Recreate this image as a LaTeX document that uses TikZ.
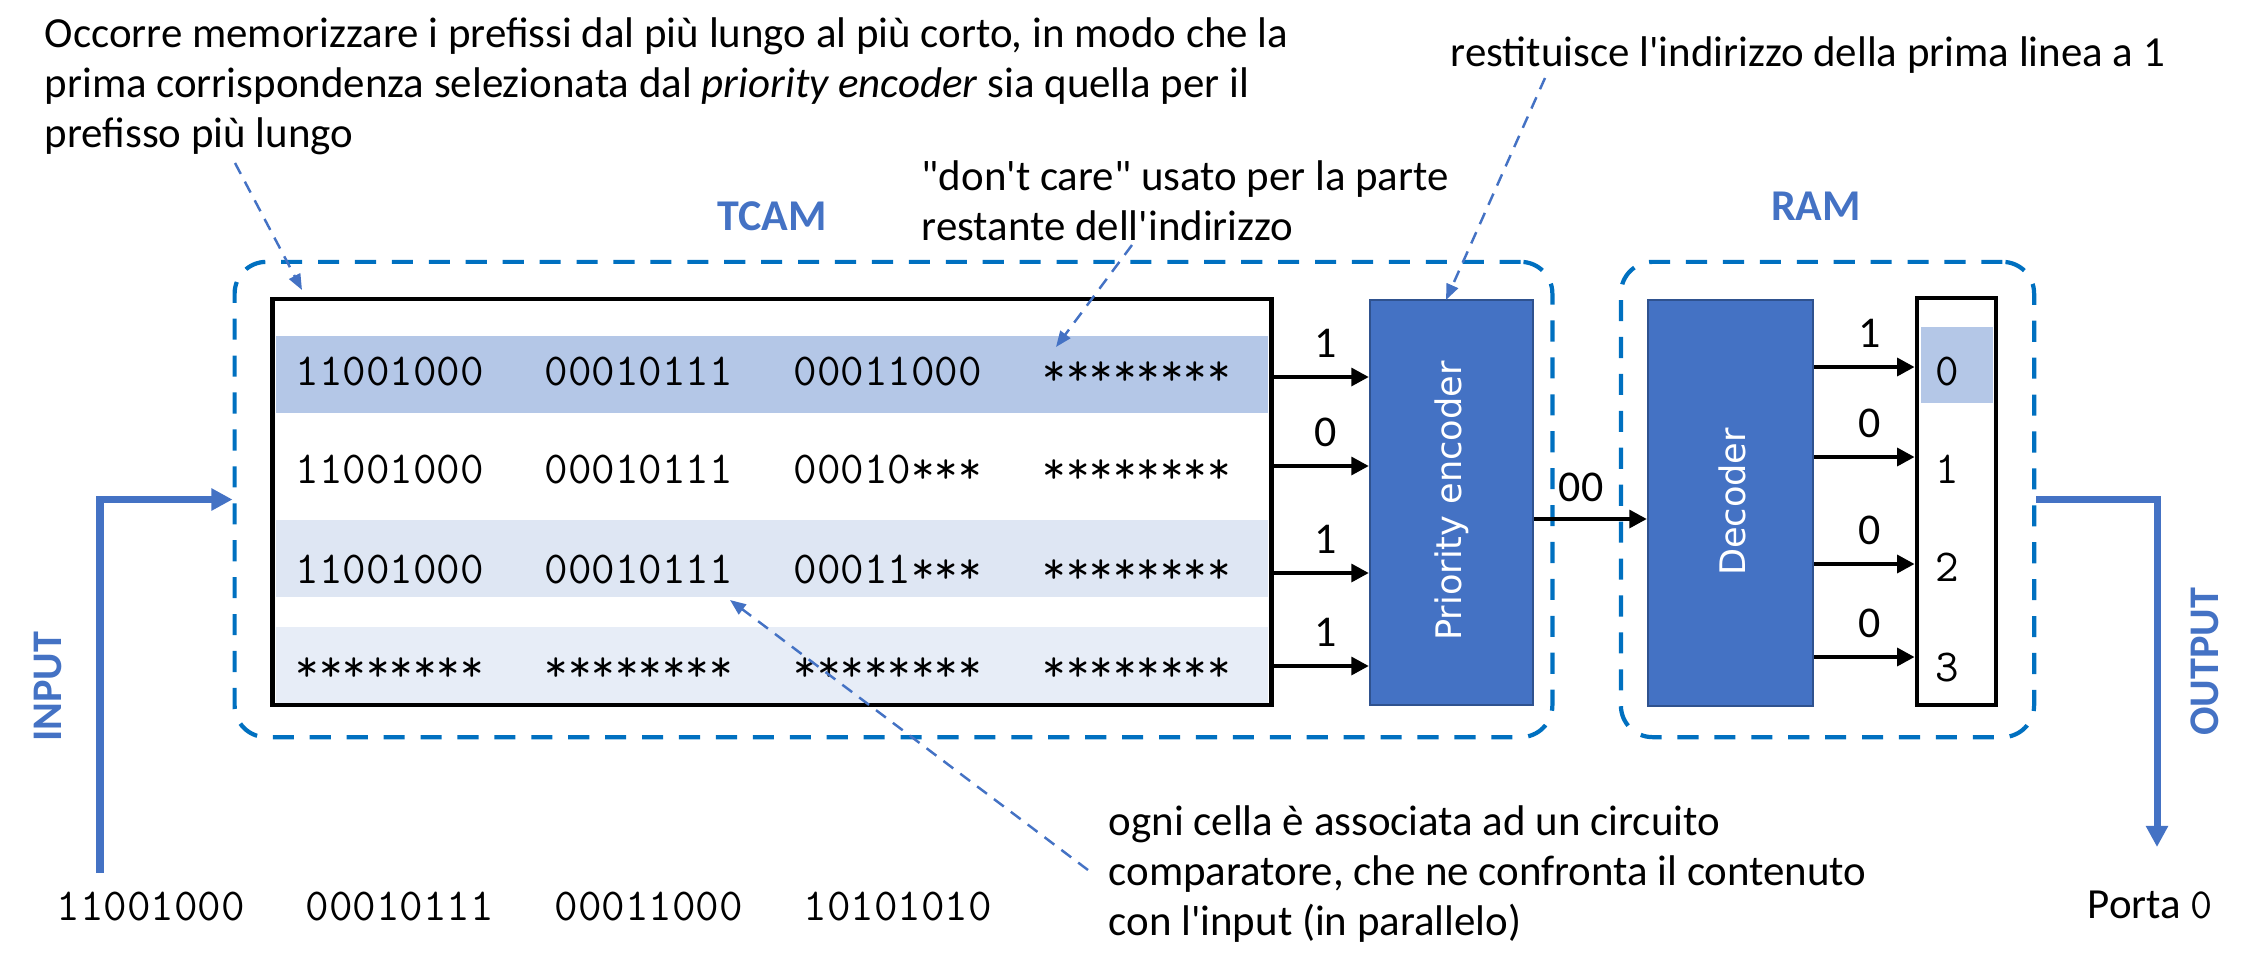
\documentclass[tikz,border=0pt]{standalone}
\usepackage{fontspec}
\setmainfont{Carlito}
\newfontfamily\encfont{DejaVu Sans}
\usetikzlibrary{arrows.meta}
\definecolor{tcamFrameBlue}{HTML}{0070C0}
\definecolor{tcamAccent}{HTML}{4472C4}
\definecolor{tcamAccentDark}{HTML}{2F528F}
\definecolor{tcamRowMatch}{HTML}{B4C7E7}
\definecolor{tcamRowLight}{HTML}{DEE6F3}
\definecolor{tcamRowPale}{HTML}{E7EDF7}

\begin{document}
\begin{tikzpicture}[x=0.01cm, y=-0.01cm,
    note/.style={font=\fontsize{12.2}{14.2}\selectfont, align=left, anchor=base west, inner sep=0pt},
    bits/.style={font=\fontsize{13}{15}\selectfont\ttfamily, anchor=base west, inner sep=0pt},
    bitlabel/.style={font=\fontsize{12.5}{14}\selectfont, inner sep=0pt},
    boxtitle/.style={font=\fontsize{12.5}{14}\selectfont\bfseries, text=tcamAccent, inner sep=0pt},
    dashframe/.style={draw=tcamFrameBlue, line width=1.2pt, dash pattern=on 6pt off 4.5pt, rounded corners=9pt, minimum height=4.75cm},
    block/.style={fill=tcamAccent, draw=tcamAccentDark, line width=0.6pt, minimum height=4.05cm},
    blocktext/.style={rotate=90, text=white, font=\encfont\fontsize{10}{12}\selectfont, inner sep=0pt},
    wire/.style={line width=1.4pt, -{Triangle[length=5pt, width=5pt]}},
    io/.style={draw=tcamAccent, line width=2pt, -{Triangle[length=6pt, width=6pt]}},
    hint/.style={draw=tcamAccent, line width=0.7pt, dash pattern=on 3.5pt off 2.5pt, -{Triangle[length=4.5pt, width=3.5pt]}}]
    \useasboundingbox (0,0) rectangle (2257,957);
    % dashed outlines
    \node[dashframe, minimum width=13.17cm] (tcamframe) at (893.5,499.5) {};
    \node[dashframe, minimum width=4.13cm] (ramframe) at (1827.5,499.5) {};
    \node[boxtitle] (tcamtitle) at (772,216) {TCAM};
    \node[boxtitle] (ramtitle) at (1816,206) {RAM};
    % TCAM rows
    \fill[tcamRowMatch] (276,336) rectangle (1268,413);
    \fill[tcamRowLight] (276,520) rectangle (1268,597);
    \fill[tcamRowPale] (276,627) rectangle (1268,703);
    \node[draw, line width=1.3pt, minimum width=9.98cm, minimum height=4.06cm] (tcam) at (772,502) {};
    \foreach \r/\base/\a/\b/\c/\d in {1/385/11001000/00010111/00011000/********,
        2/483/11001000/00010111/00010***/********,
        3/583/11001000/00010111/00011***/********,
        4/681/********/********/********/********} {
        \node[bits] (cell\r a) at (295,\base) {\a};
        \node[bits] (cell\r b) at (544,\base) {\b};
        \node[bits] (cell\r c) at (793,\base) {\c};
        \node[bits] (cell\r d) at (1042,\base) {\d};
    }
    % encoder, decoder, RAM
    \node[block, minimum width=1.63cm] (pe) at (1451.5,502.5) {};
    \node[blocktext] (pelabel) at (1452,501) {Priority encoder};
    \node[block, minimum width=1.65cm] (dec) at (1730.5,503) {};
    \node[blocktext] (declabel) at (1732,502) {Decoder};
    \fill[tcamRowMatch] (1921,327) rectangle (1993,403);
    \node[draw, line width=1.3pt, minimum width=0.79cm, minimum height=4.07cm] (ram) at (1956.5,501.5) {};
    \foreach \n/\base in {0/385, 1/483, 2/581, 3/681}
        \node[bits, anchor=base] (addr\n) at (1947,\base) {\n};
    \foreach \y/\bit [count=\i] in {377/1, 466/0, 573/1, 666/1} {
        \draw[wire] (tcam.east |- 0,\y) -- (pe.west |- 0,\y);
        \node[bitlabel] (match\i) at (1326,\y-34) {\bit};
    }
    \draw[wire] (pe.east |- 0,519) -- (dec.west |- 0,519);
    \node[bitlabel] (code) at (1581,487) {00};
    \foreach \y/\bit [count=\i] in {367/1, 457/0, 564/0, 657/0} {
        \draw[wire] (dec.east |- 0,\y) -- (ram.west |- 0,\y);
        \node[bitlabel] (line\i) at (1870,\y-34) {\bit};
    }
    % input and output
    \node[boxtitle, font=\fontsize{12}{14}\selectfont\bfseries, rotate=90] (inputlabel) at (48,687) {INPUT};
    \node[boxtitle, font=\fontsize{12}{14}\selectfont\bfseries, rotate=90] (outputlabel) at (2205,662) {OUTPUT};
    \coordinate (infeed) at (100,873);
    \coordinate (outfeed) at (2157,847);
    \draw[io] (infeed) |- (tcamframe.west);
    \draw[io] (ramframe.east) -| (outfeed);
    \node[bits] (in1) at (56,920) {11001000};
    \node[bits] (in2) at (305,920) {00010111};
    \node[bits] (in3) at (554,920) {00011000};
    \node[bits] (in4) at (803,920) {10101010};
    \node[note] (porta) at (2087,918) {Porta {\ttfamily 0}};
    % notes (base = last line)
    \node[note] (notelong) at (44,147) {Occorre memorizzare i prefissi dal più lungo al più corto, in modo che la\\prima corrispondenza selezionata dal \textit{priority encoder} sia quella per il\\prefisso più lungo};
    \node[note] (notecare) at (921,240) {\textquotedbl don\textquotesingle t care\textquotedbl{} usato per la parte\\restante dell\textquotesingle indirizzo};
    \node[note] (noteprio) at (1450,66) {restituisce l\textquotesingle indirizzo della prima linea a 1};
    \node[note] (notecell) at (1108,935) {ogni cella è associata ad un circuito\\comparatore, che ne confronta il contenuto\\con l\textquotesingle input (in parallelo)};
    \coordinate (hintlongA) at (235,163);
    \coordinate (hintlongB) at (302,290);
    \coordinate (hintcareA) at (1132,245);
    \coordinate (hintcareB) at (1056,347);
    \coordinate (hintprioA) at (1545,78);
    \coordinate (hintprioB) at (1446,300);
    \coordinate (hintcellA) at (1088,870);
    \coordinate (hintcellB) at (730,600);
    \draw[hint] (hintlongA) -- (hintlongB);
    \draw[hint] (hintcareA) -- (hintcareB);
    \draw[hint] (hintprioA) -- (hintprioB);
    \draw[hint] (hintcellA) -- (hintcellB);
\end{tikzpicture}
\end{document}
